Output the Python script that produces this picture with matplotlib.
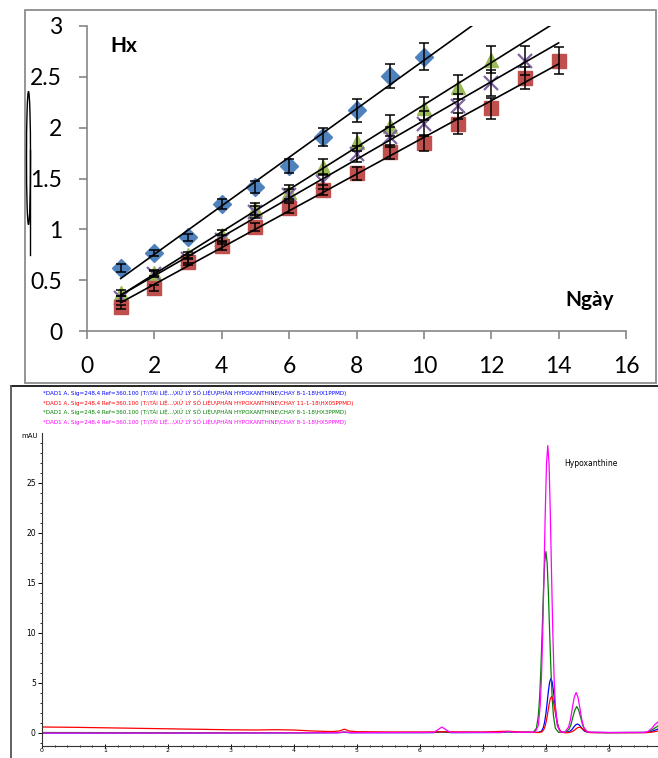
import numpy as np
import matplotlib.pyplot as plt
from matplotlib.patches import Rectangle, Ellipse

plt.rcParams['font.family'] = ['Lato', 'DejaVu Sans']

# Hx content over storage days (four samples), with standard deviations
days_blue = [1, 2, 3, 4, 5, 6, 7, 8, 9, 10]
hx_blue = [0.62, 0.77, 0.92, 1.25, 1.42, 1.62, 1.91, 2.17, 2.51, 2.70]
err_blue = [0.04, 0.03, 0.03, 0.05, 0.06, 0.07, 0.09, 0.11, 0.12, 0.13]

days_green = [1, 2, 3, 4, 5, 6, 7, 8, 9, 10, 11, 12]
hx_green = [0.37, 0.57, 0.75, 0.94, 1.20, 1.37, 1.61, 1.86, 2.02, 2.19, 2.40, 2.67]
err_green = [0.03, 0.03, 0.03, 0.05, 0.06, 0.07, 0.08, 0.09, 0.10, 0.11, 0.12, 0.13]

days_purple = [1, 2, 3, 4, 5, 6, 7, 8, 9, 10, 11, 12, 13]
hx_purple = [0.32, 0.56, 0.71, 0.90, 1.17, 1.34, 1.47, 1.74, 1.91, 2.04, 2.21, 2.44, 2.66]
err_purple = [0.02, 0.03, 0.04, 0.04, 0.06, 0.06, 0.07, 0.08, 0.10, 0.12, 0.12, 0.13, 0.14]

days_red = [1, 2, 3, 4, 5, 6, 7, 8, 9, 10, 11, 12, 13, 14]
hx_red = [0.24, 0.42, 0.68, 0.84, 1.02, 1.21, 1.39, 1.55, 1.76, 1.85, 2.04, 2.19, 2.49, 2.66]
err_red = [0.02, 0.03, 0.03, 0.04, 0.04, 0.05, 0.05, 0.06, 0.07, 0.08, 0.10, 0.10, 0.11, 0.13]

# HPLC traces (time min, signal mAU)
hx1_trace = [(0, 0.0), (2, 0.0), (4, 0.02), (4.7, 0.03), (4.8, 0.07), (4.9, 0.03),
             (6.2, 0.04), (6.35, 0.1), (6.5, 0.04), (7.3, 0.05), (7.4, 0.12), (7.5, 0.06),
             (7.88, 0.06), (7.93, 0.18), (7.96, 0.55), (7.98, 1.09), (8.00, 1.92), (8.02, 3.02),
             (8.04, 4.2), (8.06, 5.1), (8.08, 5.45), (8.10, 5.1), (8.12, 4.2), (8.14, 3.02),
             (8.16, 1.92), (8.18, 1.09), (8.20, 0.55), (8.23, 0.18), (8.28, 0.06), (8.32, 0.06),
             (8.38, 0.16), (8.41, 0.32), (8.44, 0.57), (8.47, 0.8), (8.50, 0.9), (8.53, 0.8),
             (8.56, 0.57), (8.59, 0.32), (8.62, 0.16), (8.68, 0.06), (9.0, 0.04), (9.6, 0.05),
             (9.68, 0.15), (9.73, 0.28), (9.78, 0.4)]
hx05_trace = [(0, 0.6), (0.5, 0.57), (1, 0.52), (1.5, 0.47), (2, 0.42), (2.5, 0.37), (3, 0.32),
              (3.4, 0.3), (3.7, 0.33), (4.0, 0.3), (4.3, 0.2), (4.6, 0.14), (4.72, 0.2), (4.8, 0.38),
              (4.88, 0.2), (5.0, 0.13), (5.5, 0.1), (6.0, 0.1), (6.35, 0.12), (7.0, 0.1), (7.4, 0.18),
              (7.6, 0.1), (7.89, 0.05), (7.94, 0.12), (7.97, 0.38), (7.99, 0.74), (8.01, 1.3),
              (8.03, 2.03), (8.05, 2.81), (8.07, 3.42), (8.09, 3.65), (8.11, 3.42), (8.13, 2.81),
              (8.15, 2.03), (8.17, 1.3), (8.19, 0.74), (8.21, 0.38), (8.24, 0.12), (8.29, 0.03),
              (8.35, 0.03), (8.41, 0.12), (8.44, 0.22), (8.47, 0.37), (8.50, 0.52), (8.53, 0.58),
              (8.56, 0.52), (8.59, 0.37), (8.62, 0.22), (8.65, 0.12), (8.71, 0.04), (9.0, 0.03),
              (9.6, 0.04), (9.7, 0.1), (9.78, 0.2)]
hx3_trace = [(0, 0.05), (2, 0.03), (4, 0.03), (4.8, 0.06), (6.2, 0.05), (6.35, 0.14), (6.5, 0.05),
             (7.3, 0.06), (7.4, 0.12), (7.5, 0.06), (7.80, 0.07), (7.85, 0.48), (7.88, 1.73),
             (7.90, 3.5), (7.92, 6.33), (7.94, 10.0), (7.96, 13.95), (7.98, 17.0), (8.00, 18.15),
             (8.02, 17.0), (8.04, 13.95), (8.06, 10.0), (8.08, 6.33), (8.10, 3.5), (8.12, 1.73),
             (8.15, 0.48), (8.20, 0.07), (8.31, 0.06), (8.37, 0.4), (8.40, 0.88), (8.43, 1.63),
             (8.46, 2.3), (8.49, 2.65), (8.52, 2.3), (8.55, 1.63), (8.58, 0.88), (8.61, 0.4),
             (8.67, 0.06), (9.0, 0.04), (9.6, 0.06), (9.68, 0.3), (9.73, 0.5), (9.78, 0.7)]
hx5_trace = [(0, 0.0), (2, 0.0), (4, 0.02), (4.7, 0.03), (4.8, 0.1), (4.9, 0.03), (6.0, 0.05),
             (6.22, 0.07), (6.28, 0.3), (6.35, 0.6), (6.42, 0.3), (6.48, 0.07), (7.3, 0.06),
             (7.4, 0.15), (7.5, 0.07), (7.83, 0.09), (7.88, 0.75), (7.91, 2.75), (7.93, 5.55),
             (7.95, 10.05), (7.97, 15.85), (7.99, 22.05), (8.01, 26.95), (8.03, 28.75),
             (8.05, 26.95), (8.07, 22.05), (8.09, 15.85), (8.11, 10.05), (8.13, 5.55),
             (8.15, 2.75), (8.18, 0.75), (8.23, 0.09), (8.30, 0.09), (8.36, 0.59), (8.39, 1.33),
             (8.42, 2.49), (8.45, 3.57), (8.48, 4.05), (8.51, 3.57), (8.54, 2.49), (8.57, 1.33),
             (8.60, 0.59), (8.66, 0.09), (9.0, 0.05), (9.55, 0.06), (9.62, 0.15), (9.68, 0.45),
             (9.73, 0.85), (9.78, 1.1)]

header_lines = [
    '*DAD1 A, Sig=248,4 Ref=360,100 (T:\\TÀI LIỆ...\\XỬ LÝ SỐ LIỆU\\PHÂN HYPOXANTHINE\\CHAY 8-1-18\\HX1PPMD)',
    '*DAD1 A, Sig=248,4 Ref=360,100 (T:\\TÀI LIỆ...\\XỬ LÝ SỐ LIỆU\\PHÂN HYPOXANTHINE\\CHAY 11-1-18\\HX05PPMD)',
    '*DAD1 A, Sig=248,4 Ref=360,100 (T:\\TÀI LIỆ...\\XỬ LÝ SỐ LIỆU\\PHÂN HYPOXANTHINE\\CHAY 8-1-18\\HX3PPMD)',
    '*DAD1 A, Sig=248,4 Ref=360,100 (T:\\TÀI LIỆ...\\XỬ LÝ SỐ LIỆU\\PHÂN HYPOXANTHINE\\CHAY 8-1-18\\HX5PPMD)',
]
header_colors = ['#0000ff', '#ff0000', '#008000', '#ff00ff']

W, H = 658, 758
fig = plt.figure(figsize=(W / 100, H / 100), dpi=100)

# ---- upper chart: Hx vs days ----
ax = fig.add_axes([87 / W, 1 - 331 / H, (626 - 87) / W, (331 - 26) / H])
series = [
    (days_blue, hx_blue, err_blue, 'D', '#4f81bd', 9.5),
    (days_green, hx_green, err_green, '^', '#9bbb59', 10.5),
    (days_purple, hx_purple, err_purple, 'x', '#8064a2', 10),
    (days_red, hx_red, err_red, 's', '#c0504d', 9.5),
]
for d, v, e, m, c, ms in series:
    ax.plot(d, v, m, color=c, mec=c, ms=ms, mew=1.6 if m == 'x' else 1, zorder=2)
for d, v, e, m, c, ms in series:
    ax.errorbar(d, v, yerr=e, fmt='none', ecolor='black', elinewidth=1.1,
                capsize=3.5, capthick=1.1, zorder=3)
for d, v, e, m, c, ms in series:
    k, b = np.polyfit(d, v, 1)
    xx = np.array([1, 14])
    ax.plot(xx, k * xx + b, color='black', lw=1.2, zorder=4)

ax.set_xlim(0, 16)
ax.set_ylim(0, 3)
ax.set_xticks(range(0, 17, 2))
ax.set_yticks([0, 0.5, 1, 1.5, 2, 2.5, 3])
ax.set_yticklabels(['0', '0.5', '1', '1.5', '2', '2.5', '3'])
for s in ['top', 'right']:
    ax.spines[s].set_visible(False)
for s in ['left', 'bottom']:
    ax.spines[s].set_color('#868686')
    ax.spines[s].set_linewidth(1.2)
ax.tick_params(direction='out', length=6, width=1.2, color='#868686', labelsize=16.5)
ax.tick_params(axis='y', pad=12)
ax.tick_params(axis='x', pad=12)
ax.patch.set_alpha(0)

# ---- lower chart: chromatogram ----
bx = fig.add_axes([42 / W, 1 - 746 / H, (W - 42) / W, (746 - 433) / H])
for trace, c in [(hx1_trace, '#0000ff'), (hx3_trace, '#008000'),
                 (hx05_trace, '#ff0000'), (hx5_trace, '#ff00ff')]:
    t, v = zip(*trace)
    bx.plot(t, v, color=c, lw=0.9)
bx.set_xlim(0, 9.78)
bx.set_ylim(-1.3, 30)
bx.set_xticks(range(0, 10))
bx.set_xticks(np.arange(0, 9.8, 0.2), minor=True)
bx.set_yticks([0, 5, 10, 15, 20, 25])
bx.set_yticks(range(-1, 30), minor=True)
for s in ['top', 'right']:
    bx.spines[s].set_visible(False)
for s in ['left', 'bottom']:
    bx.spines[s].set_linewidth(0.8)
    bx.spines[s].set_color('#333333')
bx.tick_params(which='major', direction='out', length=3, width=0.7, labelsize=5.5, pad=1.5)
bx.tick_params(which='minor', direction='out', length=1.5, width=0.6)
bx.tick_params(axis='x', which='both', direction='inout')
bx.tick_params(axis='x', which='major', labelsize=4.5, pad=0.3)
for lab in bx.get_xticklabels() + bx.get_yticklabels():
    lab.set_family('DejaVu Sans')
bx.patch.set_alpha(0)

# ---- overlay in pixel units: frames and free text ----
ov = fig.add_axes([0, 0, 1, 1], zorder=-1)
ov.set_xlim(0, W)
ov.set_ylim(H, 0)
ov.axis('off')
ov.add_patch(Rectangle((25, 10), 631, 373, fill=False, ec='#8c8c8c', lw=1.3))
ov.plot([11, W], [386, 386], color='black', lw=1.2)
ov.plot([11, 11], [386, H], color='#555555', lw=1.3)
ov.add_patch(Ellipse((28.5, 158), 4, 133, fill=False, ec='black', lw=1))
ov.plot([30, 30], [150, 255], color='black', lw=1)

ov.text(110, 46, 'Hx', fontsize=15, fontweight='bold', va='center', ha='left')
ov.text(565, 300, 'Ngày', fontsize=15, fontweight='bold', va='center', ha='left')

for i, (txt, c) in enumerate(zip(header_lines, header_colors)):
    ov.text(43, 393 + i * 9.5, txt, color=c, fontsize=4.1, family='DejaVu Sans',
            va='center', ha='left')
ov.text(38, 436, 'mAU', fontsize=5, family='DejaVu Sans', va='center', ha='right')
ov.text(564, 463, 'Hypoxanthine', fontsize=5.5, family='DejaVu Sans', va='center', ha='left')

fig.savefig('out.png', dpi=100)
